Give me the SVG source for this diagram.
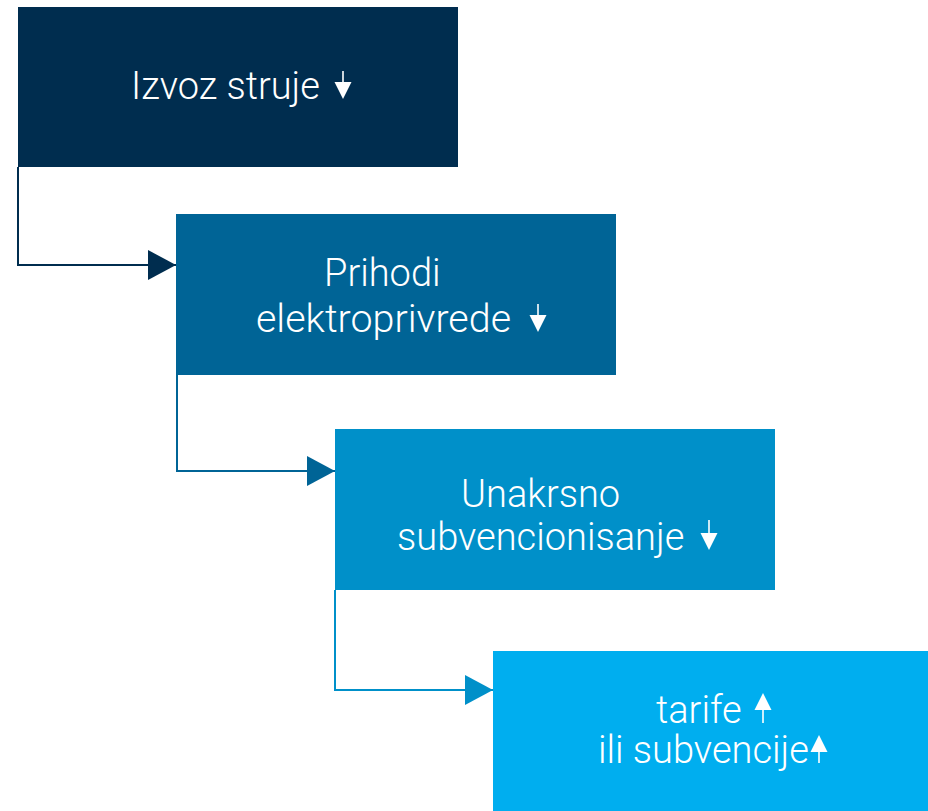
<svg xmlns="http://www.w3.org/2000/svg" width="928" height="811" viewBox="0 0 928 811">
<style>
.t{font-family:Roboto,"Liberation Sans",sans-serif;font-weight:300;font-size:38px;fill:#ffffff}
.c{fill:none;stroke-width:2}
.ar{fill:#ffffff}
.ars{stroke:#ffffff;stroke-width:1.6;fill:none}
</style>
<defs>
<marker id="m1" markerUnits="userSpaceOnUse" markerWidth="28" markerHeight="30" refX="28" refY="15" orient="auto"><path d="M0,0 L28,15 L0,30 Z" fill="#002d4f"/></marker>
<marker id="m2" markerUnits="userSpaceOnUse" markerWidth="28" markerHeight="30" refX="28" refY="15" orient="auto"><path d="M0,0 L28,15 L0,30 Z" fill="#006496"/></marker>
<marker id="m3" markerUnits="userSpaceOnUse" markerWidth="28" markerHeight="30" refX="28" refY="15" orient="auto"><path d="M0,0 L28,15 L0,30 Z" fill="#0090c9"/></marker>
</defs>
<rect width="928" height="811" fill="#ffffff"/>
<g id="connectors">
<path class="c" stroke="#002d4f" d="M18,167 V265 H176" marker-end="url(#m1)"/>
<path class="c" stroke="#006496" d="M177,375 V471 H335" marker-end="url(#m2)"/>
<path class="c" stroke="#0090c9" d="M335,590 V690 H493" marker-end="url(#m3)"/>
</g>
<g id="node1">
<rect x="18" y="7" width="440" height="160" fill="#002d4f"/>
<text class="t" x="131" y="99">Izvoz struje</text>
<line class="ars" x1="343" y1="71" x2="343" y2="84"/>
<path class="ar" d="M334.5,82 H351.5 L343,99 Z"/>
</g>
<g id="node2">
<rect x="176" y="214" width="440" height="161" fill="#006496"/>
<text class="t" x="324" y="286">Prihodi</text>
<text class="t" x="256" y="332" textLength="255" lengthAdjust="spacingAndGlyphs">elektroprivrede</text>
<line class="ars" x1="538" y1="304" x2="538" y2="317"/>
<path class="ar" d="M529.5,315 H546.5 L538,332 Z"/>
</g>
<g id="node3">
<rect x="335" y="429" width="440" height="161" fill="#0090c9"/>
<text class="t" x="461" y="507">Unakrsno</text>
<text class="t" x="397" y="550">subvencionisanje</text>
<line class="ars" x1="709" y1="520" x2="709" y2="535"/>
<path class="ar" d="M700.5,533 H717.5 L709,550 Z"/>
</g>
<g id="node4">
<rect x="493" y="651" width="435" height="160" fill="#00aeef"/>
<text class="t" x="656" y="723">tarife</text>
<text class="t" x="598" y="763">ili subvencije</text>
<line class="ars" x1="763" y1="708" x2="763" y2="723"/>
<path class="ar" d="M754.5,710 H771.5 L763,693 Z"/>
<line class="ars" x1="819" y1="748" x2="819" y2="763"/>
<path class="ar" d="M810.5,752 H827.5 L819,735 Z"/>
</g>
</svg>
